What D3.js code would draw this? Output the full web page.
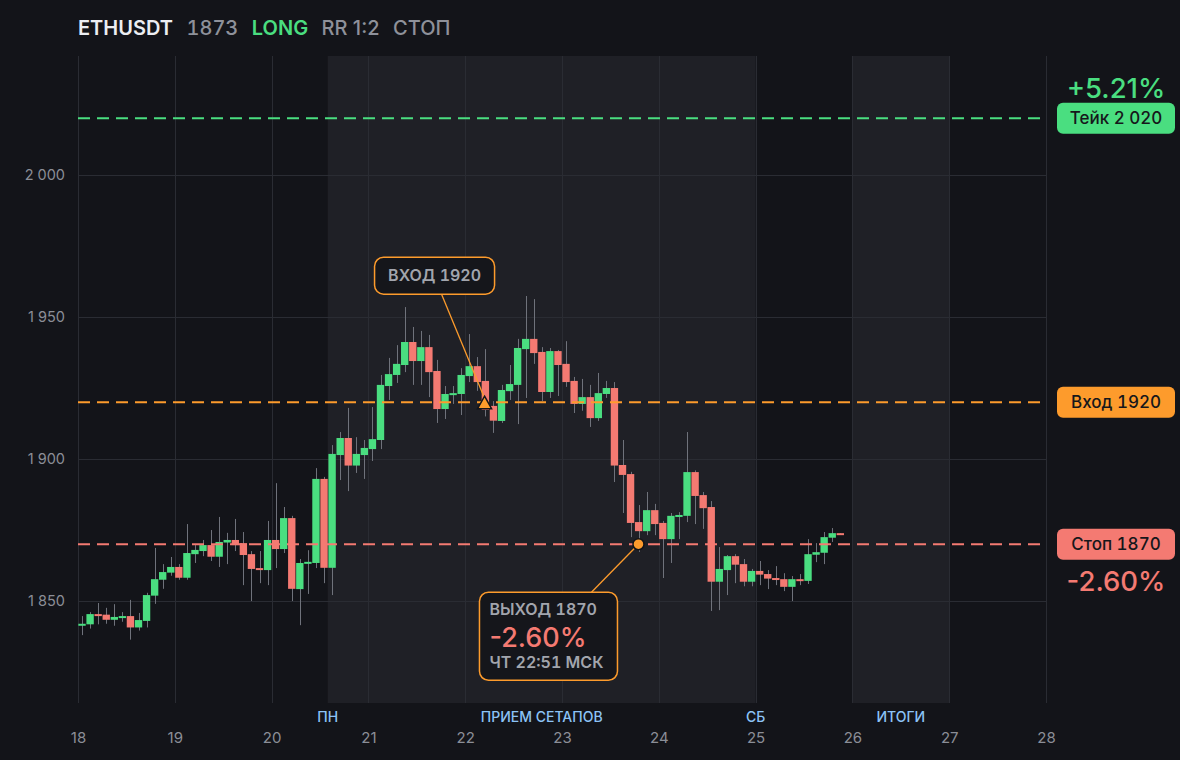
<!DOCTYPE html>
<html lang="ru">
<head>
<meta charset="utf-8">
<script src="https://cdn.jsdelivr.net/npm/d3@7/dist/d3.min.js"></script>
<style>
  html, body { margin: 0; padding: 0; background: #131419; }
  svg { display: block; font-family: Inter, "Noto Sans", sans-serif; }
  .tnum { font-variant-numeric: tabular-nums; font-feature-settings: "tnum" 1; }
</style>
</head>
<body>
<svg id="chart"></svg>
<script>
// 2h candles from the 18th 00:00, [open, high, low, close]
const CANDLES = [
    [1841.3, 1844.7, 1838.0, 1842.0], [1841.8, 1846.1, 1840.3, 1845.4], [1845.4, 1849.3, 1841.8, 1844.8],
    [1845.2, 1847.6, 1842.0, 1843.4], [1843.4, 1848.9, 1841.3, 1844.4], [1844.1, 1846.1, 1842.7, 1844.7],
    [1844.7, 1850.4, 1836.4, 1840.7], [1840.7, 1845.8, 1839.6, 1843.3], [1843.0, 1852.9, 1840.7, 1852.1],
    [1851.9, 1868.7, 1849.0, 1857.7], [1857.5, 1863.0, 1854.3, 1860.2], [1860.0, 1865.5, 1858.9, 1862.0],
    [1862.0, 1863.0, 1857.5, 1858.2], [1858.2, 1877.1, 1857.5, 1866.9], [1866.5, 1869.7, 1863.4, 1868.0],
    [1867.6, 1871.5, 1865.8, 1869.7], [1869.7, 1875.0, 1864.1, 1865.6], [1865.6, 1879.6, 1862.0, 1870.8],
    [1870.6, 1874.0, 1863.0, 1871.5], [1871.5, 1878.9, 1867.6, 1869.7], [1870.4, 1874.3, 1855.6, 1866.2],
    [1866.5, 1867.6, 1850.0, 1861.3], [1861.6, 1867.6, 1856.3, 1860.9], [1860.9, 1878.2, 1855.6, 1871.5],
    [1871.5, 1891.5, 1861.6, 1868.3], [1868.3, 1883.1, 1866.9, 1879.2], [1879.2, 1880.0, 1850.0, 1854.3],
    [1854.2, 1864.8, 1841.5, 1863.4], [1863.1, 1867.9, 1852.5, 1863.8], [1863.4, 1896.8, 1861.6, 1893.0],
    [1893.0, 1893.7, 1856.3, 1861.7], [1861.7, 1904.9, 1852.1, 1901.8], [1901.4, 1909.5, 1892.6, 1907.4],
    [1907.4, 1918.0, 1888.7, 1897.7], [1897.7, 1907.7, 1895.1, 1901.8], [1901.4, 1906.7, 1893.0, 1903.9],
    [1903.5, 1918.3, 1899.3, 1907.0], [1906.7, 1929.6, 1903.5, 1926.1], [1925.7, 1935.6, 1920.8, 1929.9],
    [1929.6, 1940.1, 1926.8, 1933.5], [1933.1, 1953.5, 1930.6, 1941.2], [1941.2, 1946.5, 1926.1, 1934.5],
    [1934.5, 1945.1, 1926.1, 1939.4], [1939.4, 1943.7, 1921.8, 1930.6], [1931.0, 1934.9, 1912.7, 1917.6],
    [1917.6, 1925.7, 1914.1, 1922.9], [1922.5, 1925.7, 1919.4, 1923.2], [1922.9, 1932.0, 1915.5, 1929.6],
    [1929.2, 1944.0, 1927.1, 1932.7], [1932.7, 1935.9, 1924.0, 1927.1], [1927.5, 1938.7, 1915.0, 1917.3],
    [1918.7, 1920.4, 1909.2, 1913.5], [1913.4, 1926.1, 1912.7, 1924.3], [1923.9, 1933.1, 1920.8, 1926.4],
    [1926.1, 1942.3, 1912.3, 1939.1], [1938.7, 1957.4, 1921.5, 1942.3], [1942.3, 1956.3, 1933.5, 1937.3],
    [1937.7, 1939.4, 1920.4, 1923.6], [1923.6, 1939.1, 1921.5, 1938.0], [1938.0, 1938.4, 1922.2, 1933.1],
    [1933.5, 1941.5, 1925.4, 1927.1], [1927.5, 1928.9, 1916.2, 1919.4], [1919.4, 1928.2, 1917.0, 1921.8],
    [1921.8, 1926.1, 1911.3, 1914.4], [1914.4, 1930.3, 1913.4, 1923.2], [1922.9, 1927.5, 1921.5, 1925.0],
    [1925.0, 1927.1, 1891.9, 1897.7], [1897.9, 1906.7, 1881.0, 1894.4], [1894.7, 1895.5, 1872.5, 1877.5],
    [1877.8, 1883.8, 1867.3, 1874.6], [1874.6, 1888.4, 1873.2, 1882.0], [1882.0, 1884.2, 1873.2, 1877.1],
    [1877.5, 1878.2, 1858.1, 1871.8], [1871.8, 1881.0, 1863.4, 1880.0], [1879.6, 1881.3, 1871.8, 1880.3],
    [1880.0, 1909.5, 1877.8, 1895.4], [1895.4, 1896.0, 1877.1, 1887.0], [1887.3, 1888.4, 1875.4, 1882.7],
    [1883.1, 1885.2, 1846.5, 1856.8], [1856.8, 1869.0, 1846.8, 1861.3], [1860.9, 1866.2, 1852.1, 1865.8],
    [1865.8, 1866.5, 1856.3, 1862.8], [1863.0, 1864.8, 1855.2, 1856.8], [1856.8, 1861.3, 1855.2, 1860.6],
    [1860.6, 1864.1, 1855.6, 1859.3], [1859.5, 1860.9, 1854.2, 1857.9], [1858.1, 1862.3, 1855.6, 1857.5],
    [1857.7, 1859.8, 1853.5, 1855.0], [1855.0, 1858.8, 1850.0, 1857.7], [1857.7, 1859.5, 1855.6, 1857.1],
    [1857.1, 1871.8, 1856.0, 1866.5], [1866.3, 1870.4, 1863.7, 1867.2], [1867.0, 1874.3, 1863.0, 1872.5],
    [1872.3, 1875.7, 1870.8, 1873.9], [1873.9, 1873.9, 1873.3, 1873.3]
];
const START_DAY = 18;
const CANDLE_HOURS = 2;

const DAYS = [18, 19, 20, 21, 22, 23, 24, 25, 26, 27, 28];
const Y_TICKS = [1850, 1900, 1950, 2000];

// shaded sessions and their captions (in days)
const BANDS = [[20.58, 25], [26, 27]];
const BAND_LABELS = [
    { t: 20.58, text: "ПН" },
    { t: 22.79, text: "ПРИЕМ СЕТАПОВ" },
    { t: 25,    text: "СБ" },
    { t: 26.5,  text: "ИТОГИ" }
];

const LEVELS = [
    { price: 2020, label: "Тейк 2 020", color: "#4ade80" },
    { price: 1920, label: "Вход 1920",  color: "#fd9b2c" },
    { price: 1870, label: "Стоп 1870",  color: "#f47a72" }
];
const TAKE_PCT = "+5.21%";
const STOP_PCT = "-2.60%";

const ENTRY = { t: 22.2, price: 1920, label: "ВХОД 1920" };
const EXIT = { t: 23.79, price: 1870, lines: ["ВЫХОД 1870", "-2.60%", "ЧТ 22:51 МСК"] };

const HEADER = [
    { text: "ETHUSDT", color: "#eceef2", weight: 600, tnum: false },
    { text: "1873",    color: "#8e919a", weight: 500, tnum: true },
    { text: "LONG",    color: "#4ade80", weight: 600, tnum: false },
    { text: "RR 1:2",  color: "#8e919a", weight: 500, tnum: false },
    { text: "СТОП",    color: "#8e919a", weight: 500, tnum: false }
];

const width = 1180;
const height = 760;
const plot = { left: 78, right: 1046, top: 56, bottom: 703 };
const UP = "#4ade80", DOWN = "#f47a72", ORANGE = "#fd9b2c";

const svg = d3.select("#chart").attr("width", width).attr("height", height);
svg.append("rect").attr("width", width).attr("height", height).attr("fill", "#131419");

const x = d3.scaleLinear().domain([18, 28]).range([plot.left, plot.right]);
const y = d3.scaleLinear().domain([1814.1, 2041.9]).range([plot.bottom, plot.top]);

// sessions
svg.append("g").selectAll("rect")
    .data(BANDS)
    .join("rect")
    .attr("x", d => x(d[0]))
    .attr("y", plot.top)
    .attr("width", d => x(d[1]) - x(d[0]))
    .attr("height", plot.bottom - plot.top)
    .attr("fill", "#1f2026");

// grid
const grid = svg.append("g").attr("stroke", "#2a2c33").attr("stroke-width", 1);
grid.selectAll(".h")
    .data(Y_TICKS)
    .join("line")
    .attr("x1", plot.left).attr("x2", plot.right)
    .attr("y1", d => Math.round(y(d)) + 0.5).attr("y2", d => Math.round(y(d)) + 0.5);
grid.selectAll(".v")
    .data(DAYS)
    .join("line")
    .attr("x1", d => Math.round(x(d)) + 0.5).attr("x2", d => Math.round(x(d)) + 0.5)
    .attr("y1", plot.top).attr("y2", plot.bottom);

// axes
const ru = d3.formatLocale({ decimal: ",", thousands: "\u00a0", grouping: [3], currency: ["", ""] });
const yAxis = svg.append("g")
    .attr("transform", `translate(${plot.left},0)`)
    .call(d3.axisLeft(y).tickValues(Y_TICKS).tickFormat(ru.format(",")).tickSize(0).tickPadding(13));
const xAxis = svg.append("g")
    .attr("transform", `translate(0,${plot.bottom})`)
    .call(d3.axisBottom(x).tickValues(DAYS).tickFormat(d3.format("d")).tickSize(0).tickPadding(29));
[yAxis, xAxis].forEach(a => {
    a.select(".domain").remove();
    a.selectAll("text")
        .attr("fill", "#8b8e97")
        .style("font-size", "15px")
        .style("font-family", "Inter, sans-serif");
});
yAxis.selectAll("text").style("font-size", "14.5px");

svg.append("g").selectAll("text")
    .data(BAND_LABELS)
    .join("text")
    .attr("x", d => x(d.t))
    .attr("y", 722)
    .attr("text-anchor", "middle")
    .attr("fill", "#8cc3f6")
    .style("font-size", "14px")
    .style("font-weight", 500)
    .text(d => d.text);

// candles
const candles = CANDLES.map((c, i) => ({
    t: START_DAY + (i + 0.5) * CANDLE_HOURS / 24,
    o: c[0], h: c[1], l: c[2], c: c[3]
}));
const step = x(START_DAY + CANDLE_HOURS / 24) - x(START_DAY);
const bodyW = step - 0.7;

const cg = svg.append("g");
cg.selectAll("line")
    .data(candles)
    .join("line")
    .attr("x1", d => Math.round(x(d.t)) + 0.5)
    .attr("x2", d => Math.round(x(d.t)) + 0.5)
    .attr("y1", d => y(d.h))
    .attr("y2", d => y(d.l))
    .attr("stroke", "#6f727b")
    .attr("stroke-width", 1);
cg.selectAll("rect")
    .data(candles)
    .join("rect")
    .attr("x", d => x(d.t) - bodyW / 2)
    .attr("width", bodyW)
    .attr("y", d => Math.min(y(d.o), y(d.c)))
    .attr("height", d => Math.max(2, Math.abs(y(d.o) - y(d.c))))
    .attr("fill", d => d.c >= d.o ? UP : DOWN);

// level lines and tags
svg.append("g").selectAll("line")
    .data(LEVELS)
    .join("line")
    .attr("x1", plot.left).attr("x2", plot.right)
    .attr("y1", d => y(d.price)).attr("y2", d => y(d.price))
    .attr("stroke", d => d.color)
    .attr("stroke-width", 2)
    .attr("stroke-dasharray", "12,7");

const tags = svg.append("g").selectAll("g")
    .data(LEVELS)
    .join("g")
    .attr("transform", d => `translate(1116,${y(d.price)})`);
tags.append("rect")
    .attr("x", -59).attr("y", -15.5)
    .attr("width", 118).attr("height", 31)
    .attr("rx", 6)
    .attr("fill", d => d.color);
tags.append("text")
    .attr("class", "tnum")
    .attr("y", 6)
    .attr("text-anchor", "middle")
    .attr("fill", "#16171b")
    .style("font-size", "17px")
    .style("font-weight", 500)
    .text(d => d.label);

svg.append("text")
    .attr("x", 1116).attr("y", y(LEVELS[0].price) - 20)
    .attr("text-anchor", "middle")
    .attr("fill", LEVELS[0].color)
    .style("font-size", "27.5px")
    .style("font-weight", 500)
    .text(TAKE_PCT);
svg.append("text")
    .attr("x", 1116).attr("y", y(LEVELS[2].price) + 47)
    .attr("text-anchor", "middle")
    .attr("fill", LEVELS[2].color)
    .style("font-size", "27.5px")
    .style("font-weight", 500)
    .text(STOP_PCT);

// entry annotation
const ex = x(ENTRY.t), ey = y(ENTRY.price);
const entryBox = { x: ex - 110, y: ey - 145, w: 120, h: 37 };
svg.append("line")
    .attr("x1", entryBox.x + 67).attr("y1", entryBox.y + entryBox.h)
    .attr("x2", ex).attr("y2", ey - 4)
    .attr("stroke", ORANGE).attr("stroke-width", 1.3);
svg.append("path")
    .attr("d", `M${ex},${ey - 6} L${ex + 7},${ey + 6.5} L${ex - 7},${ey + 6.5} Z`)
    .attr("fill", ORANGE)
    .attr("stroke", "#131419")
    .attr("stroke-width", 1.5);
svg.append("rect")
    .attr("x", entryBox.x).attr("y", entryBox.y)
    .attr("width", entryBox.w).attr("height", entryBox.h)
    .attr("rx", 9)
    .attr("fill", "#15161b")
    .attr("stroke", ORANGE).attr("stroke-width", 1.5);
svg.append("text")
    .attr("class", "tnum")
    .attr("x", entryBox.x + entryBox.w / 2).attr("y", entryBox.y + 24)
    .attr("text-anchor", "middle")
    .attr("fill", "#a2a5ad")
    .style("font-size", "16px")
    .style("font-weight", 600)
    .text(ENTRY.label);

// exit annotation
const xx = x(EXIT.t), xy = y(EXIT.price);
const exitBox = { x: xx - 159, y: xy + 48, w: 138, h: 88 };
svg.append("line")
    .attr("x1", exitBox.x + 112).attr("y1", exitBox.y)
    .attr("x2", xx).attr("y2", xy)
    .attr("stroke", ORANGE).attr("stroke-width", 1.3);
svg.append("circle")
    .attr("cx", xx).attr("cy", xy).attr("r", 5.5)
    .attr("fill", ORANGE)
    .attr("stroke", "#131419").attr("stroke-width", 1.5);
svg.append("rect")
    .attr("x", exitBox.x).attr("y", exitBox.y)
    .attr("width", exitBox.w).attr("height", exitBox.h)
    .attr("rx", 9)
    .attr("fill", "#15161b")
    .attr("stroke", ORANGE).attr("stroke-width", 1.5);
const exitStyles = [
    { dy: 23, size: 16, color: "#a2a5ad", weight: 600, tnum: true },
    { dy: 55, size: 27, color: DOWN, weight: 500, tnum: false },
    { dy: 76, size: 16, color: "#a2a5ad", weight: 600, tnum: true }
];
svg.append("g").selectAll("text")
    .data(EXIT.lines)
    .join("text")
    .attr("class", (d, i) => exitStyles[i].tnum ? "tnum" : null)
    .attr("x", exitBox.x + 10)
    .attr("y", (d, i) => exitBox.y + exitStyles[i].dy)
    .attr("fill", (d, i) => exitStyles[i].color)
    .style("font-size", (d, i) => exitStyles[i].size + "px")
    .style("font-weight", (d, i) => exitStyles[i].weight)
    .text(d => d);

// header
let hx = plot.left;
HEADER.forEach(h => {
    const t = svg.append("text")
        .attr("class", h.tnum ? "tnum" : null)
        .attr("x", hx).attr("y", 35)
        .attr("fill", h.color)
        .style("font-size", "20px")
        .style("font-weight", h.weight)
        .text(h.text);
    hx += t.node().getComputedTextLength() + 13.5;
});
</script>
</body>
</html>
